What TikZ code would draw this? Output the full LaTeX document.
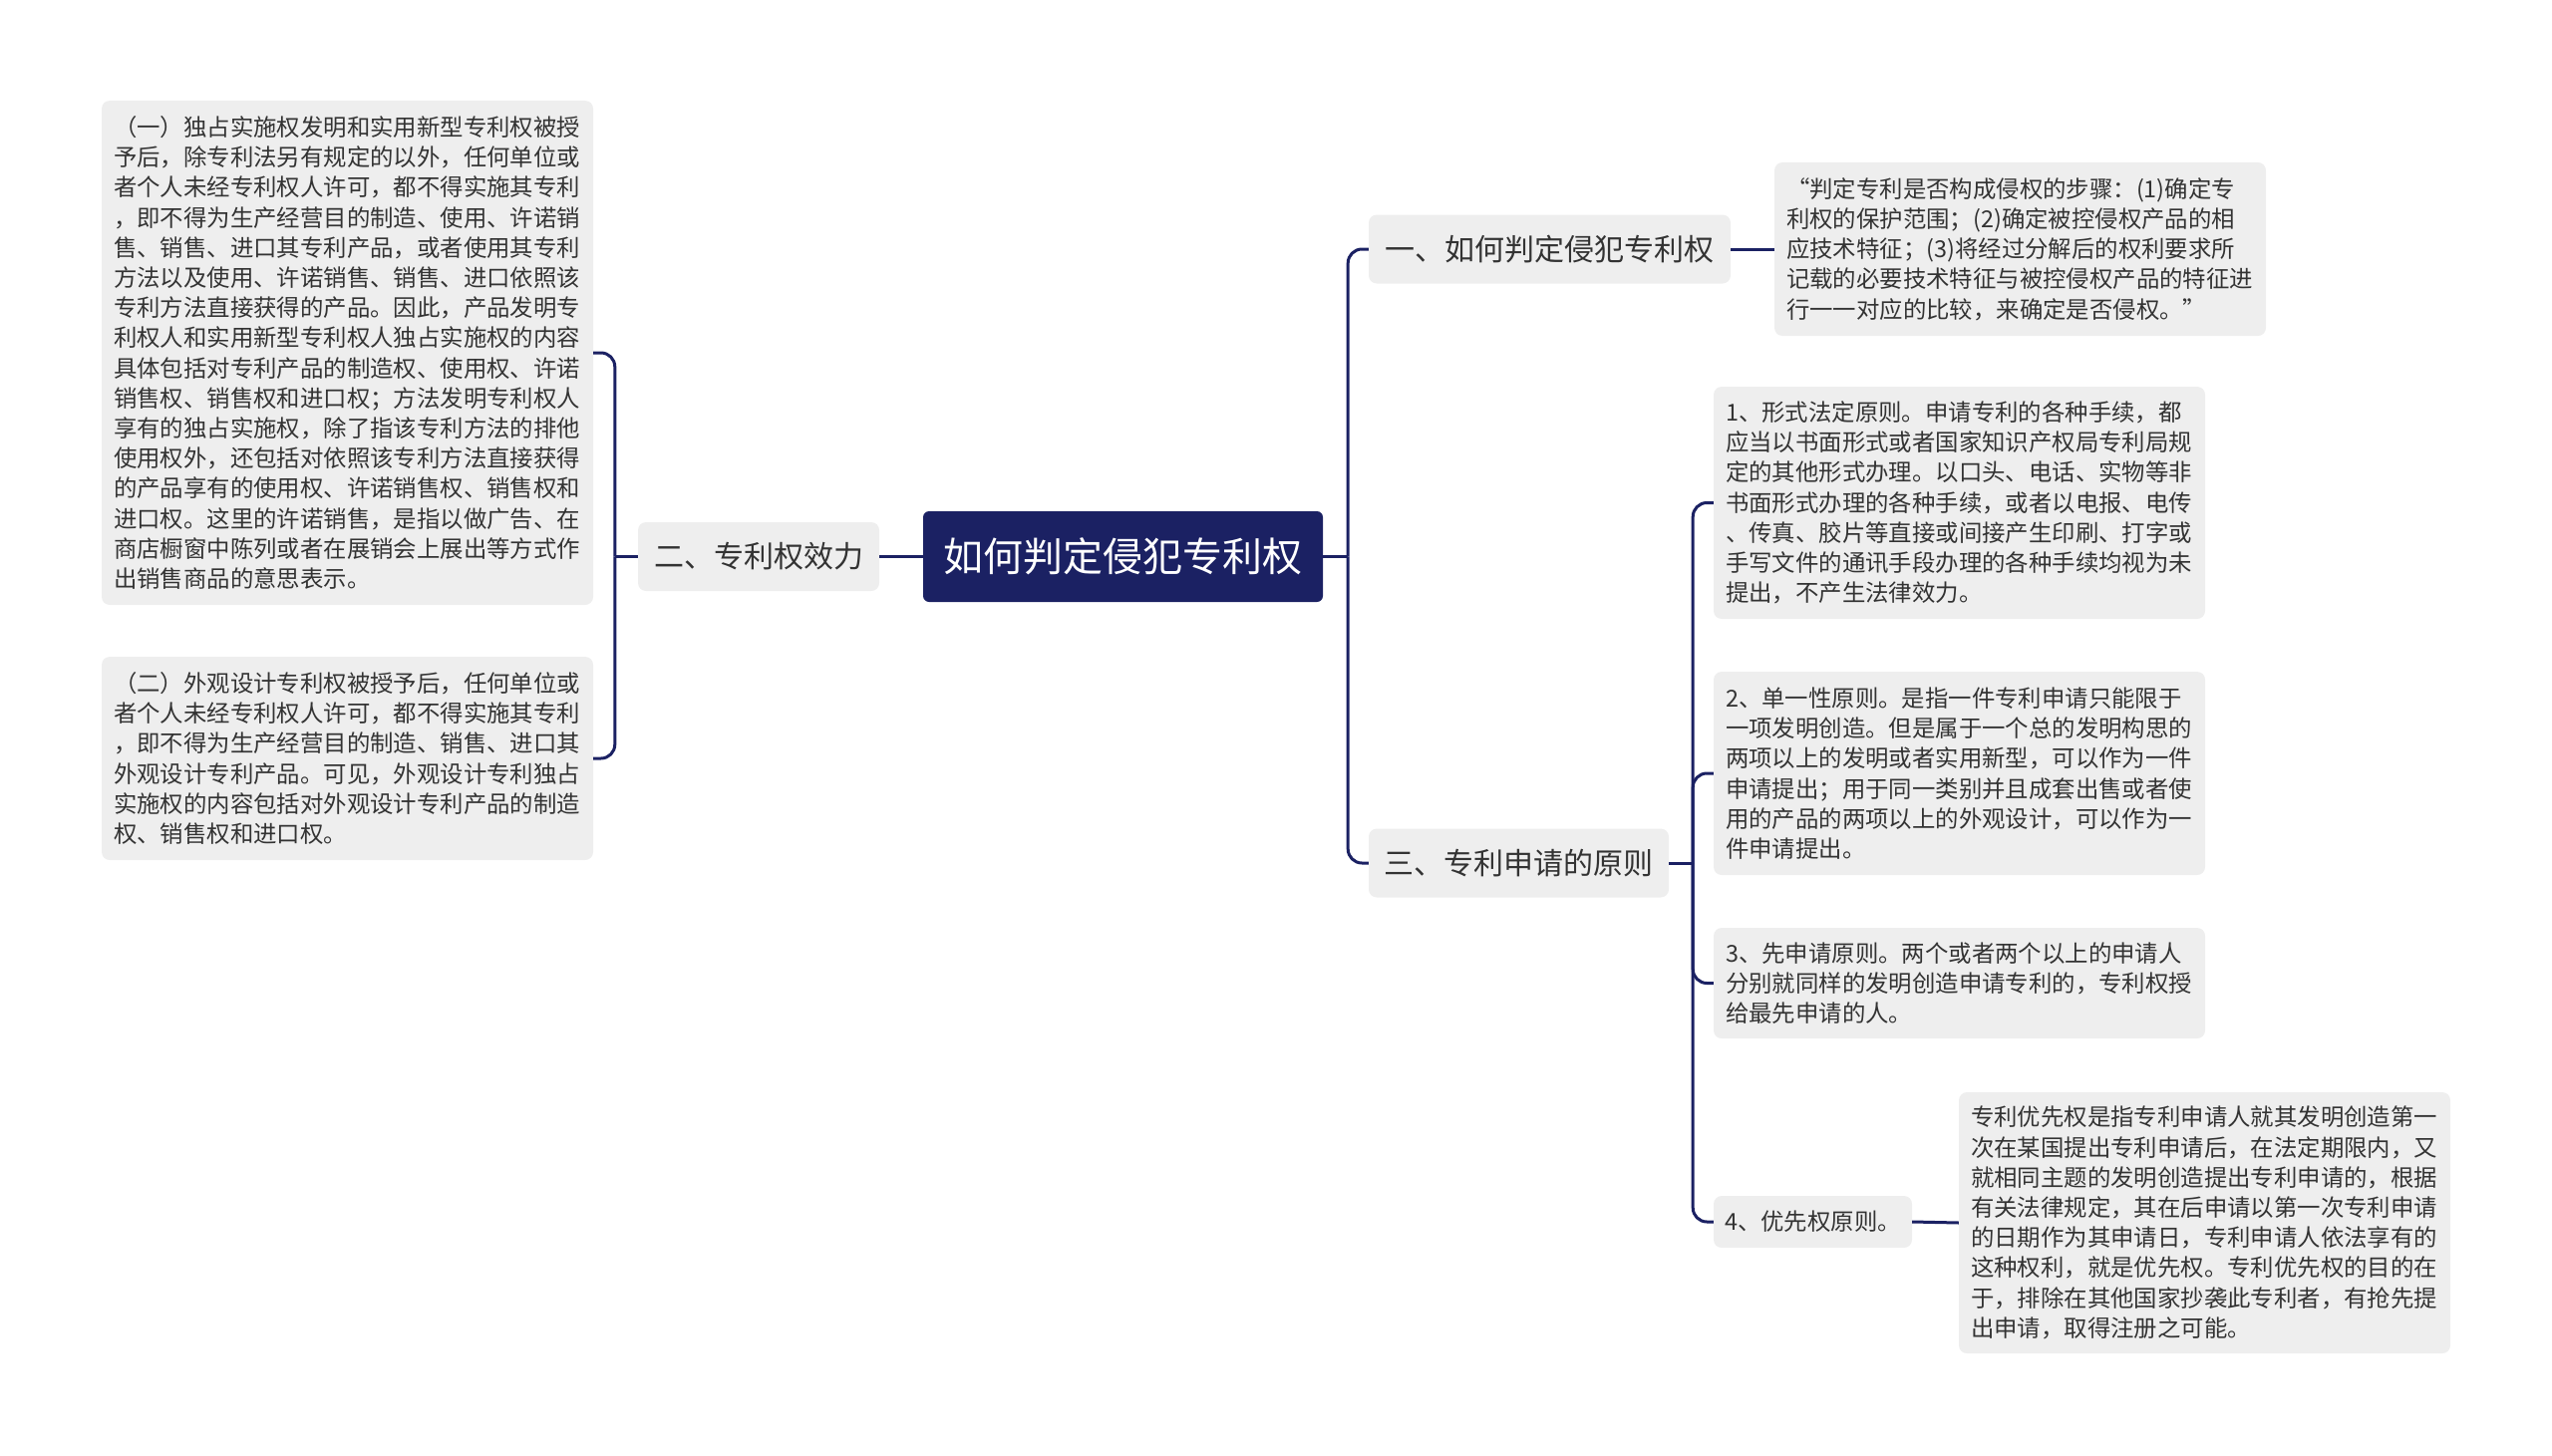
\documentclass[tikz,border=0pt]{standalone}
\usepackage{fontspec}
\setmainfont{Noto Sans CJK SC}
\definecolor{navy}{HTML}{1B2163}
\definecolor{boxgray}{HTML}{EEEEEE}
\definecolor{inkgray}{HTML}{333333}
\begin{document}
\begin{tikzpicture}[x=1pt,y=-1pt,
    root/.style={fill=navy,rounded corners=6pt,text=white,inner sep=0pt,
      minimum width=401pt,minimum height=91pt,font=\fontsize{40}{48}\selectfont},
    topic/.style={fill=boxgray,rounded corners=8pt,text=inkgray,inner sep=0pt,
      minimum height=69pt,font=\fontsize{30}{36}\selectfont},
    leaf/.style={fill=boxgray,rounded corners=8pt,text=inkgray,inner sep=0pt,
      font=\fontsize{23.4}{30.2}\selectfont},
    para/.style={leaf,align=left,text width=469pt,minimum width=493pt},
    link/.style={draw=navy,line width=3pt,rounded corners=14pt}]
  \useasboundingbox (0,0) rectangle (2560,1461);
  % Centre
  \node[root] (root) at (1126.5,558.5) {如何判定侵犯专利权};
  % Main branches
  \node[topic,minimum width=363pt] (t1) at (1554.5,250) {一、如何判定侵犯专利权};
  \node[topic,minimum width=242pt] (t2) at (761,558.5) {二、专利权效力};
  \node[topic,minimum width=301pt] (t3) at (1523.5,866) {三、专利申请的原则};
  % Branch one
  \node[para,minimum height=174pt] (d1) at (2026.5,250) {“判定专利是否构成侵权的步骤：(1)确定专\\利权的保护范围；(2)确定被控侵权产品的相\\应技术特征；(3)将经过分解后的权利要求所\\记载的必要技术特征与被控侵权产品的特征进\\行一一对应的比较，来确定是否侵权。”};
  % Branch two
  \node[para,minimum height=506pt] (l1) at (348.5,354) {（一）独占实施权发明和实用新型专利权被授\\予后，除专利法另有规定的以外，任何单位或\\者个人未经专利权人许可，都不得实施其专利\\，即不得为生产经营目的制造、使用、许诺销\\售、销售、进口其专利产品，或者使用其专利\\方法以及使用、许诺销售、销售、进口依照该\\专利方法直接获得的产品。因此，产品发明专\\利权人和实用新型专利权人独占实施权的内容\\具体包括对专利产品的制造权、使用权、许诺\\销售权、销售权和进口权；方法发明专利权人\\享有的独占实施权，除了指该专利方法的排他\\使用权外，还包括对依照该专利方法直接获得\\的产品享有的使用权、许诺销售权、销售权和\\进口权。这里的许诺销售，是指以做广告、在\\商店橱窗中陈列或者在展销会上展出等方式作\\出销售商品的意思表示。};
  \node[para,minimum height=204pt] (l2) at (348.5,761) {（二）外观设计专利权被授予后，任何单位或\\者个人未经专利权人许可，都不得实施其专利\\，即不得为生产经营目的制造、销售、进口其\\外观设计专利产品。可见，外观设计专利独占\\实施权的内容包括对外观设计专利产品的制造\\权、销售权和进口权。};
  % Branch three
  \node[para,minimum height=233pt] (p1) at (1965.5,504.5) {1、形式法定原则。申请专利的各种手续，都\\应当以书面形式或者国家知识产权局专利局规\\定的其他形式办理。以口头、电话、实物等非\\书面形式办理的各种手续，或者以电报、电传\\、传真、胶片等直接或间接产生印刷、打字或\\手写文件的通讯手段办理的各种手续均视为未\\提出，不产生法律效力。};
  \node[para,minimum height=204pt] (p2) at (1965.5,776) {2、单一性原则。是指一件专利申请只能限于\\一项发明创造。但是属于一个总的发明构思的\\两项以上的发明或者实用新型，可以作为一件\\申请提出；用于同一类别并且成套出售或者使\\用的产品的两项以上的外观设计，可以作为一\\件申请提出。};
  \node[para,minimum height=111pt] (p3) at (1965.5,986.5) {3、先申请原则。两个或者两个以上的申请人\\分别就同样的发明创造申请专利的，专利权授\\给最先申请的人。};
  \node[leaf,minimum width=199pt,minimum height=52pt] (p4) at (1818.5,1226) {4、优先权原则。};
  \node[para,minimum height=262pt] (p4d) at (2211.5,1227) {专利优先权是指专利申请人就其发明创造第一\\次在某国提出专利申请后，在法定期限内，又\\就相同主题的发明创造提出专利申请的，根据\\有关法律规定，其在后申请以第一次专利申请\\的日期作为其申请日，专利申请人依法享有的\\这种权利，就是优先权。专利优先权的目的在\\于，排除在其他国家抄袭此专利者，有抢先提\\出申请，取得注册之可能。};
  % Junctions
  \coordinate (rj) at ([xshift=25pt]root.east);
  \coordinate (lj) at ([xshift=-23pt]t2.west);
  \coordinate (sj) at ([xshift=24pt]t3.east);
  % Connectors
  \draw[link] (root.east) -- (rj);
  \draw[link] (rj) |- (t1.west);
  \draw[link] (rj) |- (t3.west);
  \draw[link] (root.west) -- (t2.east);
  \draw[link] (t1.east) -- (d1.west);
  \draw[link] (t2.west) -- (lj);
  \draw[link] (lj) |- (l1.east);
  \draw[link] (lj) |- (l2.east);
  \draw[link] (t3.east) -- (sj);
  \foreach \n in {p1,p2,p3,p4}
    \draw[link] (sj) |- (\n.west);
  \draw[link] (p4.east) -- (p4d.west);
\end{tikzpicture}
\end{document}
